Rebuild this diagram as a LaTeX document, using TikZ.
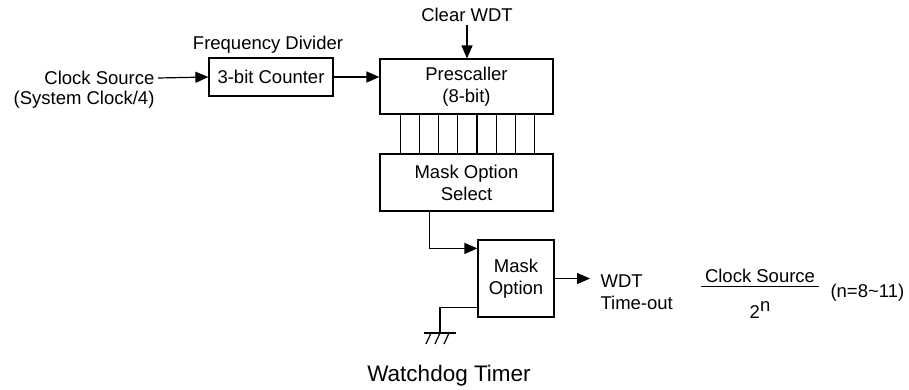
\documentclass[tikz,border=0pt]{standalone}
\usepackage{fontspec}
\setmainfont{Liberation Sans}
\usetikzlibrary{positioning, arrows.meta, calc}

\begin{document}
\begin{tikzpicture}[
    x=1pt, y=-1pt,
    every node/.style={font=\fontsize{18.5}{22}\selectfont},
    blk/.style={rectangle, draw, line width=1.2pt, align=center, inner sep=0pt},
    arr/.style={-{Triangle[length=13pt,width=11pt]}, line width=1.2pt},
    wire/.style={line width=1.2pt}
]
  \useasboundingbox (0,0) rectangle (909,389);

  % blocks
  \node[blk, minimum width=124pt, minimum height=38pt] (cnt) at (271,77) {3-bit Counter};
  \node[blk, minimum width=173pt, minimum height=55pt] (pre) at (466.5,86.5) {Prescaller\\(8-bit)};
  \node[blk, minimum width=173pt, minimum height=57pt] (msel) at (466.5,182.5) {Mask Option\\Select};
  \node[blk, minimum width=76pt, minimum height=77pt] (mopt) at (516,278.5) {Mask\\Option};

  % labels
  \node[anchor=east] (clk) at (158,78) {Clock Source};
  \node[anchor=east] (sys) at (158,100) {(System Clock/4)};
  \node (fdiv) at (268,45) {Frequency Divider};
  \node (clr) at (467,15) {Clear WDT};
  \node[anchor=west, align=left] (wdt) at (597,292) {WDT\\Time-out};
  \node (num) at (760,276) {Clock Source};
  \node (den) at (760,310) {2\raisebox{7pt}{n}};
  \node[anchor=west] (rng) at (827,293) {(n=8\textasciitilde11)};
  \node[font=\fontsize{22.5}{26}\selectfont] (title) at (449,376) {Watchdog Timer};
  \coordinate (gnd) at (440,333);

  % signal path
  \draw[arr] (clk.east) -- (cnt.west);
  \draw[arr] (cnt.east) -- (pre.west |- cnt.east);
  \draw[arr] (clr.south) -- (clr.south |- pre.north);
  \foreach \i in {0,...,7}
    \draw[wire] ([xshift={21pt+\i*19.15pt}]pre.south west) -- ([xshift={21pt+\i*19.15pt}]msel.north west);
  \draw[arr] ([xshift=50pt]msel.south west) |- ([yshift=-9pt]mopt.north west);
  \draw[arr, shorten >=7pt] (mopt.east) -- (mopt.east -| wdt.west);
  \draw[wire] (num.south west) -- (num.south east);

  % ground
  \draw[wire] ([yshift=10pt]mopt.south west) -| (gnd);
  \draw[wire] ([xshift=-16pt]gnd) -- ([xshift=16pt]gnd);
  \foreach \dx in {-9,0,9}
    \draw[wire] ($(gnd)+(\dx,0)$) -- ++(-5,11);
\end{tikzpicture}
\end{document}
